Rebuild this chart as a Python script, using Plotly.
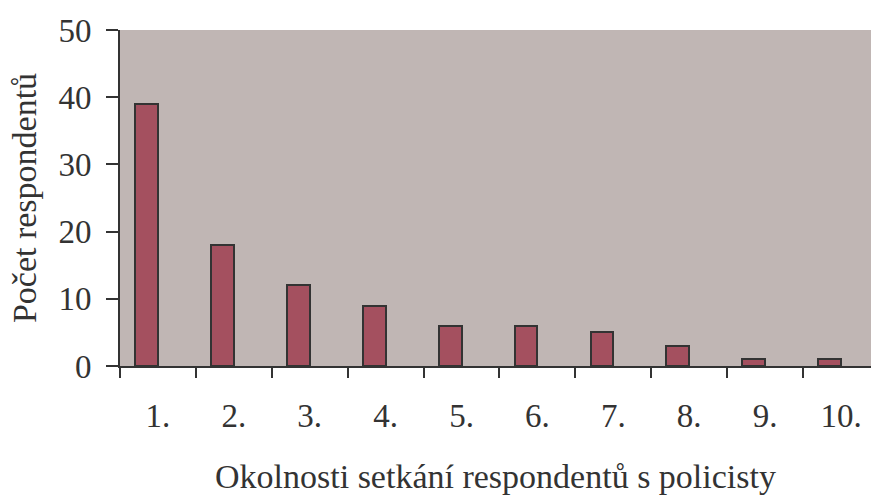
import plotly.graph_objects as go

categories = ["1.", "2.", "3.", "4.", "5.", "6.", "7.", "8.", "9.", "10."]
values = [39, 18, 12, 9, 6, 6, 5, 3, 1, 1]
y_ticks = [0, 10, 20, 30, 40, 50]

xpos = list(range(1, len(categories) + 1))

fig = go.Figure()
fig.add_trace(go.Bar(
    x=xpos, y=values,
    width=0.3, offset=-0.3,
    marker=dict(color="#A4505F", line=dict(color="#333333", width=2)),
    showlegend=False,
))

font = dict(family="Liberation Serif, Times New Roman, serif", size=33, color="#333333")
title_font = dict(family="Liberation Serif, Times New Roman, serif", size=34, color="#333333")

fig.update_layout(
    width=871, height=496,
    margin=dict(l=120, r=0, t=30, b=130, autoexpand=False),
    paper_bgcolor="white",
    plot_bgcolor="#C0B6B4",
    font=font,
    bargap=0,
)
fig.update_xaxes(
    range=[0.5, 10.395],
    tickvals=xpos, ticktext=categories,
    ticks="outside", ticklen=19, tickcolor="rgba(0,0,0,0)",
    showgrid=False, zeroline=False,
    showline=True, linecolor="#333333", linewidth=2,
    minor=dict(tickvals=[i + 0.5 for i in range(0, 11)], ticks="outside",
               ticklen=10, tickwidth=2, tickcolor="#333333", showgrid=False),
    title=dict(text="Okolnosti setkání respondentů s policisty", standoff=32, font=title_font),
    tickfont=font,
    automargin=False,
)
fig.update_yaxes(
    range=[0, 50],
    tickvals=y_ticks,
    ticks="outside", ticklen=12, tickwidth=2, tickcolor="#333333",
    ticklabelstandoff=8,
    showgrid=False, zeroline=False,
    showline=True, linecolor="#333333", linewidth=2,
    title=dict(text="Počet respondentů", standoff=12, font=title_font),
    tickfont=font,
    automargin=False,
)

fig.write_html(
    "out.html",
    config={"displayModeBar": False},
    post_script="document.body.style.margin='0';document.body.style.overflow='hidden';",
)
